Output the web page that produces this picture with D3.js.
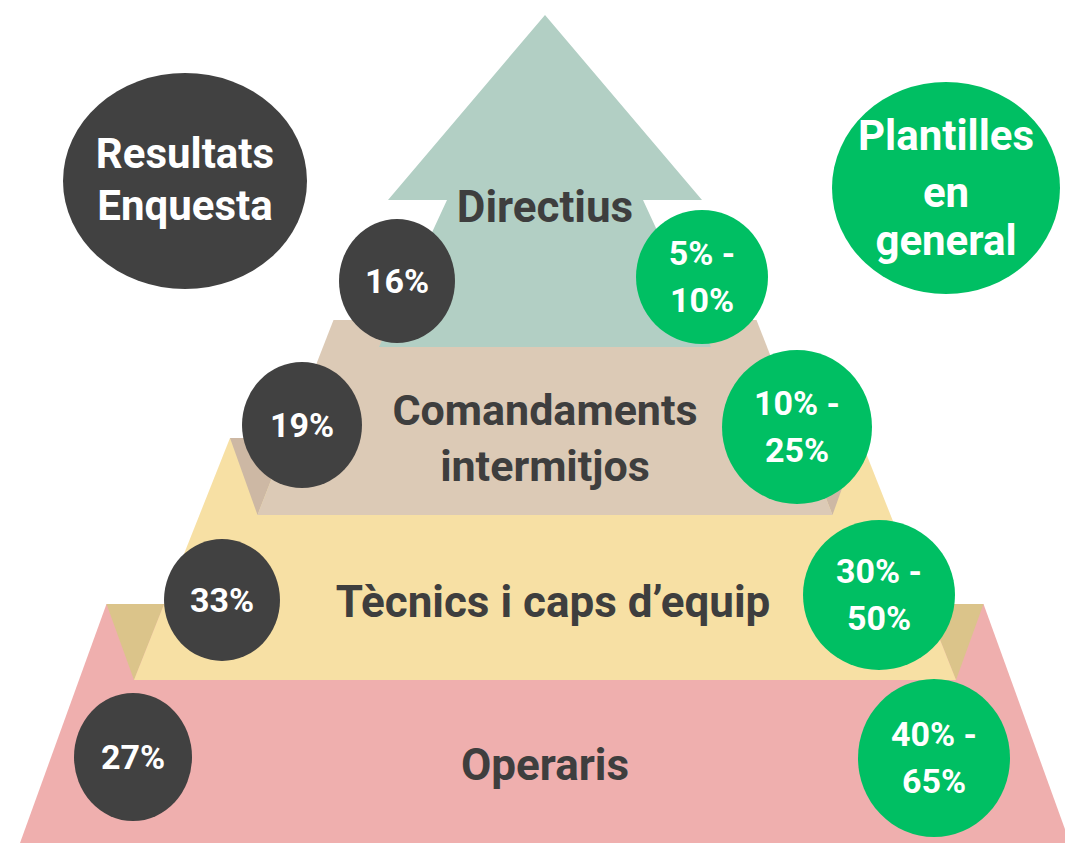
<!DOCTYPE html>
<html>
<head>
<meta charset="utf-8">
<script src="https://cdn.jsdelivr.net/npm/d3@7"></script>
<style>
  body { margin: 0; background: #fff; }
  text { font-family: Roboto, "Noto Sans", sans-serif; font-weight: 700; }
</style>
</head>
<body>
<div id="chart"></div>
<script>
(function () {

  // Data, bottom level first
  const levels = ["Operaris", "Tècnics i caps d’equip", "Comandaments intermitjos", "Directius"]
  const surveyShare = [27, 33, 19, 16]
  const generalLow = [40, 30, 10, 5]
  const generalHigh = [65, 50, 25, 10]
  const headers = [["Resultats", "Enquesta"], ["Plantilles", "en", "general"]]

  const width = 1065
  const height = 843
  const cx = 545

  const svg = d3.select("#chart").append("svg")
      .attr("width", width)
      .attr("height", height)

  // Colours per level
  const faceColor = d3.scaleOrdinal().domain(levels)
    .range(["#EFAFAE", "#F7E0A4", "#DCCAB6", "#B2CFC4"])
  const sideColor = d3.scaleOrdinal().domain(levels)
    .range(["#D9999A", "#DBC48A", "#CDB8A4", "#9FBCB1"])
  const darkCircle = "#414141"
  const greenCircle = "#00BF63"
  const labelColor = "#3E3E3E"

  // Layout of the slabs (top y, bottom y, half widths)
  const slabs = [
    { top: 604, bottom: 843, hTop: 438.5, hBot: 525 },
    { top: 438, bottom: 680, hTop: 315, hBot: 411 },
    { top: 320, bottom: 515, hTop: 211.5, hBot: 287.5 }
  ]
  const halfAt = (s, y) => d3.scaleLinear().domain([s.top, s.bottom]).range([s.hTop, s.hBot])(y)

  const line = d3.line()

  // Slabs, with the dark side wedges where a slab overlaps the one below
  slabs.forEach((s, i) => {
    if (i > 0) {
      const below = slabs[i - 1]
      const h = halfAt(s, below.top)
      ;[-1, 1].forEach(side => {
        svg.append("path")
          .attr("d", line([
            [cx + side * below.hTop, below.top],
            [cx + side * h, below.top],
            [cx + side * s.hBot, s.bottom]
          ]) + "Z")
          .attr("fill", sideColor(levels[i]))
      })
    }
    svg.append("path")
      .attr("d", line([
        [cx - s.hTop, s.top], [cx + s.hTop, s.top],
        [cx + s.hBot, s.bottom], [cx - s.hBot, s.bottom]
      ]) + "Z")
      .attr("fill", faceColor(levels[i]))
  })

  // Arrow on top
  const arrow = { tip: 15, base: 200, hHead: 157, hShaftTop: 98, bottom: 347, hShaftBot: 166 }
  svg.append("path")
    .attr("d", line([
      [cx, arrow.tip],
      [cx + arrow.hHead, arrow.base],
      [cx + arrow.hShaftTop, arrow.base],
      [cx + arrow.hShaftBot, arrow.bottom],
      [cx - arrow.hShaftBot, arrow.bottom],
      [cx - arrow.hShaftTop, arrow.base],
      [cx - arrow.hHead, arrow.base]
    ]) + "Z")
    .attr("fill", faceColor(levels[3]))

  // Level labels
  const labelPos = [
    { y: [780], size: 44 },
    { y: [617], size: 44 },
    { y: [425, 481], size: 43 },
    { y: [222], size: 44 }
  ]
  const labelLines = levels.map(d => d === "Comandaments intermitjos" ? ["Comandaments", "intermitjos"] : [d])
  levels.forEach((d, i) => {
    svg.append("g").selectAll("text")
      .data(labelLines[i])
      .join("text")
      .attr("x", i === 1 ? 553 : cx)
      .attr("y", (t, j) => labelPos[i].y[j])
      .attr("text-anchor", "middle")
      .attr("font-size", labelPos[i].size)
      .attr("fill", labelColor)
      .text(t => t)
  })

  // Survey circles (left) and general workforce circles (right)
  const leftPos = [
    { x: 133, y: 757, rx: 59, ry: 64 },
    { x: 222, y: 600, rx: 58, ry: 61 },
    { x: 302, y: 425, rx: 60, ry: 63 },
    { x: 397, y: 281, rx: 58, ry: 62 }
  ]
  const rightPos = [
    { x: 934, y: 758, rx: 76, ry: 79 },
    { x: 879, y: 595, rx: 76, ry: 75 },
    { x: 797, y: 427, rx: 75, ry: 77 },
    { x: 702, y: 277, rx: 66, ry: 67 }
  ]

  const left = svg.append("g").selectAll("g")
    .data(surveyShare)
    .join("g")
    .attr("transform", (d, i) => `translate(${leftPos[i].x},${leftPos[i].y})`)
  left.append("ellipse")
    .attr("rx", (d, i) => leftPos[i].rx)
    .attr("ry", (d, i) => leftPos[i].ry)
    .attr("fill", darkCircle)
  left.append("text")
    .attr("text-anchor", "middle")
    .attr("y", 12)
    .attr("font-size", 34)
    .attr("fill", "#fff")
    .text(d => d + "%")

  const right = svg.append("g").selectAll("g")
    .data(generalLow.map((lo, i) => [lo, generalHigh[i]]))
    .join("g")
    .attr("transform", (d, i) => `translate(${rightPos[i].x},${rightPos[i].y})`)
  right.append("ellipse")
    .attr("rx", (d, i) => rightPos[i].rx)
    .attr("ry", (d, i) => rightPos[i].ry)
    .attr("fill", greenCircle)
  right.append("text")
    .attr("text-anchor", "middle")
    .attr("y", -12)
    .attr("font-size", 34)
    .attr("fill", "#fff")
    .text(d => d[0] + "% -")
  right.append("text")
    .attr("text-anchor", "middle")
    .attr("y", 35)
    .attr("font-size", 34)
    .attr("fill", "#fff")
    .text(d => d[1] + "%")

  // Header bubbles
  const headerPos = [
    { x: 185, y: 181, rx: 122, ry: 108, fill: darkCircle, lines: [168, 220], size: 42 },
    { x: 946, y: 188, rx: 114, ry: 106, fill: greenCircle, lines: [150, 207, 255], size: 42 }
  ]
  headers.forEach((h, i) => {
    const p = headerPos[i]
    svg.append("ellipse")
      .attr("cx", p.x).attr("cy", p.y)
      .attr("rx", p.rx).attr("ry", p.ry)
      .attr("fill", p.fill)
    svg.append("g").selectAll("text")
      .data(h)
      .join("text")
      .attr("x", p.x)
      .attr("y", (t, j) => p.lines[j])
      .attr("text-anchor", "middle")
      .attr("font-size", p.size)
      .attr("fill", "#fff")
      .text(t => t)
  })

})();
</script>
</body>
</html>
